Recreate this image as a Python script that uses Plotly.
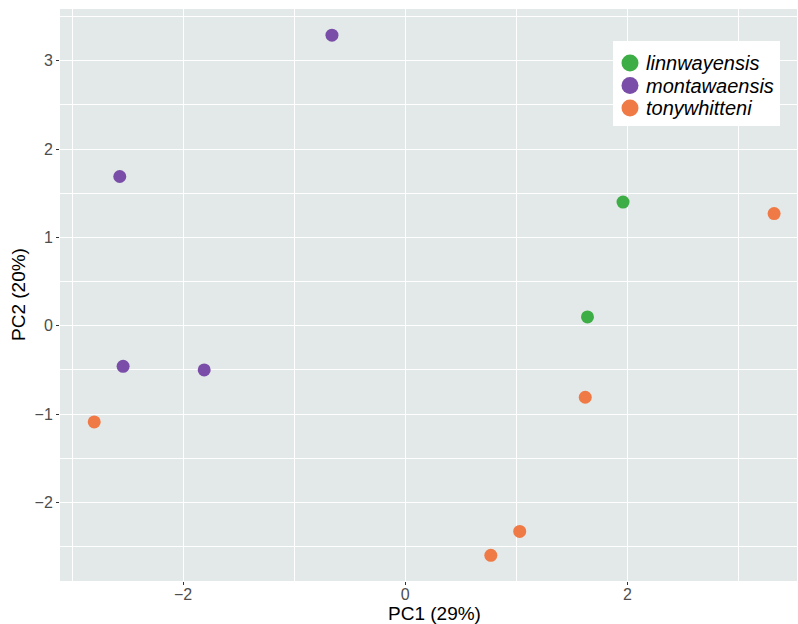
import plotly.graph_objects as go

species = ["linnwayensis", "montawaensis", "tonywhitteni"]
colors = ["#3DAE45", "#7A4EA8", "#F07A45"]

linn_pc1 = [1.96, 1.64]
linn_pc2 = [1.40, 0.10]

mont_pc1 = [-0.66, -2.57, -2.54, -1.81]
mont_pc2 = [3.29, 1.69, -0.46, -0.50]

tony_pc1 = [3.32, -2.80, 1.62, 1.03, 0.77]
tony_pc2 = [1.27, -1.09, -0.81, -2.33, -2.60]

xs = [linn_pc1, mont_pc1, tony_pc1]
ys = [linn_pc2, mont_pc2, tony_pc2]

W, H = 798, 624
L, R, T, B = 60, 1, 9, 43
PW, PH = W - L - R, H - T - B


def px_x(p):
    return (p - L) / PW


def px_y(p):
    return (H - B - p) / PH


fig = go.Figure()
for name, c, x, y in zip(species, colors, xs, ys):
    fig.add_trace(go.Scatter(
        x=x, y=y, mode="markers", name=name, showlegend=False,
        marker=dict(color=c, size=13, line=dict(width=0)),
    ))

font_family = "Liberation Sans, Arial, Helvetica, sans-serif"
panel = "#E3E8E8"

# legend box drawn like ggplot's inset legend
shapes = [dict(type="rect", xref="paper", yref="paper",
               x0=px_x(613), x1=px_x(780), y0=px_y(126), y1=px_y(41),
               fillcolor="white", line=dict(width=0), layer="above")]
annotations = []
legend_y = [63, 85.5, 108]
for name, c, ly in zip(species, colors, legend_y):
    shapes.append(dict(type="circle", xref="paper", yref="paper",
                       xsizemode="pixel", ysizemode="pixel",
                       xanchor=px_x(630), yanchor=px_y(ly),
                       x0=-8.5, x1=8.5, y0=-8.5, y1=8.5,
                       fillcolor=c, line=dict(width=0), layer="above"))
    annotations.append(dict(text=name, xref="paper", yref="paper",
                            x=px_x(644), y=px_y(ly), xanchor="left", yanchor="middle",
                            showarrow=False,
                            font=dict(family=font_family, size=20, color="black",
                                      style="italic")))

annotations += [
    dict(text="PC1 (29%)", xref="paper", yref="paper", x=px_x(434), y=px_y(613),
         xanchor="center", yanchor="middle", showarrow=False,
         font=dict(size=19, color="black")),
    dict(text="PC2 (20%)", xref="paper", yref="paper", x=px_x(18), y=px_y(295),
         xanchor="center", yanchor="middle", showarrow=False, textangle=-90,
         font=dict(size=19, color="black")),
]

fig.update_layout(
    width=W, height=H,
    margin=dict(l=L, r=R, t=T, b=B, autoexpand=False),
    paper_bgcolor="white",
    plot_bgcolor=panel,
    font=dict(family=font_family, size=16, color="#4D4D4D"),
    showlegend=False,
    shapes=shapes,
    annotations=annotations,
)

fig.update_xaxes(
    range=[-3.108, 3.526], automargin=False,
    tickmode="array", tickvals=[-2, 0, 2],
    showgrid=True, gridcolor="white", gridwidth=1.4,
    minor=dict(tickmode="array", tickvals=[-3, -1, 1, 3], showgrid=True,
               gridcolor="white", gridwidth=0.6, ticks=""),
    zeroline=False, showline=False,
    ticks="outside", ticklen=3, tickcolor="#333333", tickwidth=1,
    ticklabelstandoff=-4,
    tickfont=dict(size=16, color="#4D4D4D"),
)
fig.update_yaxes(
    range=[-2.891, 3.587], automargin=False,
    tickmode="array", tickvals=[-2, -1, 0, 1, 2, 3],
    showgrid=True, gridcolor="white", gridwidth=1.4,
    minor=dict(tickmode="array", tickvals=[-2.5, -1.5, -0.5, 0.5, 1.5, 2.5, 3.5],
               showgrid=True, gridcolor="white", gridwidth=0.6, ticks=""),
    zeroline=False, showline=False,
    ticks="outside", ticklen=3, tickcolor="#333333", tickwidth=1,
    tickfont=dict(size=16, color="#4D4D4D"),
)

fig.write_html("out.html",
               config={"displayModeBar": False},
               post_script="document.body.style.margin='0';document.body.style.overflow='hidden';")
